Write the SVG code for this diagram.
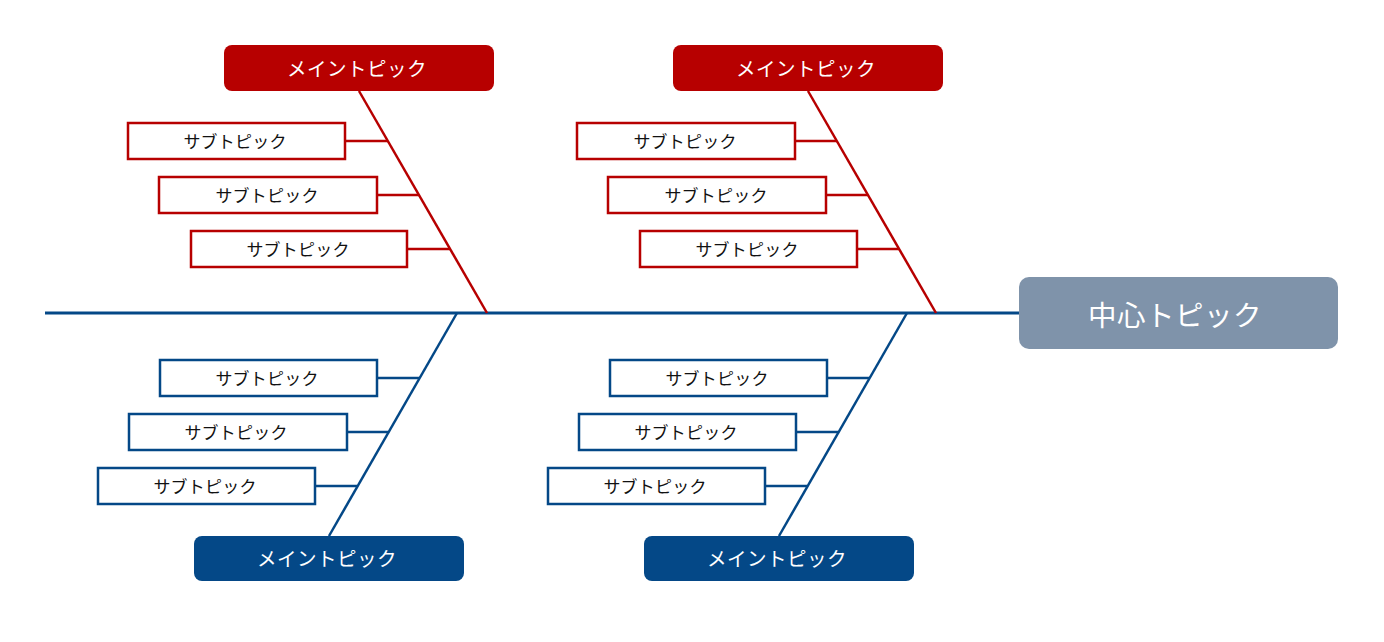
<svg xmlns="http://www.w3.org/2000/svg" width="1384" height="642" viewBox="0 0 1384 642">
<style>
.bg{fill:#ffffff}
.main-r{fill:#b70000}
.main-b{fill:#044887}
.sub-r{fill:#ffffff;stroke:#b70000;stroke-width:2.5}
.sub-b{fill:#ffffff;stroke:#044887;stroke-width:2.5}
.ln-r{stroke:#b70000;stroke-width:2.5;fill:none}
.ln-b{stroke:#044887;stroke-width:2.5;fill:none}
.axis{stroke:#044887;stroke-width:3;fill:none}
text{font-family:"Noto Sans CJK JP","Noto Sans",sans-serif;text-anchor:middle;dominant-baseline:central}
.tm{fill:#ffffff;font-size:19.5px;letter-spacing:0.5px}
.ts{fill:#111111;font-size:17px;letter-spacing:0.2px}
.tc{fill:#ffffff;font-size:28.5px;letter-spacing:0.5px}
</style>
<rect class="bg" x="0" y="0" width="1384" height="642"/>
<g id="connectors">
<line class="axis" x1="45" y1="313" x2="1019" y2="313"/>
<line class="ln-r" x1="359" y1="91" x2="487" y2="313"/>
<line class="ln-r" x1="345" y1="141" x2="388" y2="141"/>
<line class="ln-r" x1="377" y1="195" x2="419" y2="195"/>
<line class="ln-r" x1="407" y1="249" x2="450" y2="249"/>
<line class="ln-r" x1="808" y1="91" x2="936" y2="313"/>
<line class="ln-r" x1="795" y1="141" x2="837" y2="141"/>
<line class="ln-r" x1="826" y1="195" x2="868" y2="195"/>
<line class="ln-r" x1="857" y1="249" x2="899" y2="249"/>
<line class="ln-b" x1="457" y1="313" x2="329" y2="536"/>
<line class="ln-b" x1="377" y1="378" x2="420" y2="378"/>
<line class="ln-b" x1="347" y1="432" x2="388" y2="432"/>
<line class="ln-b" x1="315" y1="486" x2="357" y2="486"/>
<line class="ln-b" x1="907" y1="313" x2="779" y2="536"/>
<line class="ln-b" x1="827" y1="378" x2="870" y2="378"/>
<line class="ln-b" x1="796" y1="432" x2="838" y2="432"/>
<line class="ln-b" x1="765" y1="486" x2="807" y2="486"/>
</g>
<g id="center">
<rect x="1019" y="277" width="319" height="72" rx="10" fill="#7f93aa"/>
<text class="tc" x="1175" y="313">中心トピック</text>
</g>
<g id="main1">
<rect class="main-r" x="224" y="45" width="270" height="46" rx="8"/>
<text class="tm" x="357" y="67">メイントピック</text>
</g>
<g id="sub1a"><rect class="sub-r" x="128" y="123" width="217" height="36"/><text class="ts" x="235" y="140">サブトピック</text></g>
<g id="sub1b"><rect class="sub-r" x="159" y="177" width="218" height="36"/><text class="ts" x="267" y="194">サブトピック</text></g>
<g id="sub1c"><rect class="sub-r" x="191" y="231" width="216" height="36"/><text class="ts" x="298" y="248">サブトピック</text></g>
<g id="main2">
<rect class="main-r" x="673" y="45" width="270" height="46" rx="8"/>
<text class="tm" x="806" y="67">メイントピック</text>
</g>
<g id="sub2a"><rect class="sub-r" x="577" y="123" width="218" height="36"/><text class="ts" x="685" y="140">サブトピック</text></g>
<g id="sub2b"><rect class="sub-r" x="608" y="177" width="218" height="36"/><text class="ts" x="716" y="194">サブトピック</text></g>
<g id="sub2c"><rect class="sub-r" x="640" y="231" width="217" height="36"/><text class="ts" x="747" y="248">サブトピック</text></g>
<g id="main3">
<rect class="main-b" x="194" y="536" width="270" height="45" rx="8"/>
<text class="tm" x="327" y="557">メイントピック</text>
</g>
<g id="sub3a"><rect class="sub-b" x="160" y="360" width="217" height="36"/><text class="ts" x="267" y="377">サブトピック</text></g>
<g id="sub3b"><rect class="sub-b" x="129" y="414" width="218" height="36"/><text class="ts" x="236" y="431">サブトピック</text></g>
<g id="sub3c"><rect class="sub-b" x="98" y="468" width="217" height="36"/><text class="ts" x="205" y="485">サブトピック</text></g>
<g id="main4">
<rect class="main-b" x="644" y="536" width="270" height="45" rx="8"/>
<text class="tm" x="777" y="557">メイントピック</text>
</g>
<g id="sub4a"><rect class="sub-b" x="610" y="360" width="217" height="36"/><text class="ts" x="717" y="377">サブトピック</text></g>
<g id="sub4b"><rect class="sub-b" x="579" y="414" width="217" height="36"/><text class="ts" x="686" y="431">サブトピック</text></g>
<g id="sub4c"><rect class="sub-b" x="548" y="468" width="217" height="36"/><text class="ts" x="655" y="485">サブトピック</text></g>
</svg>
